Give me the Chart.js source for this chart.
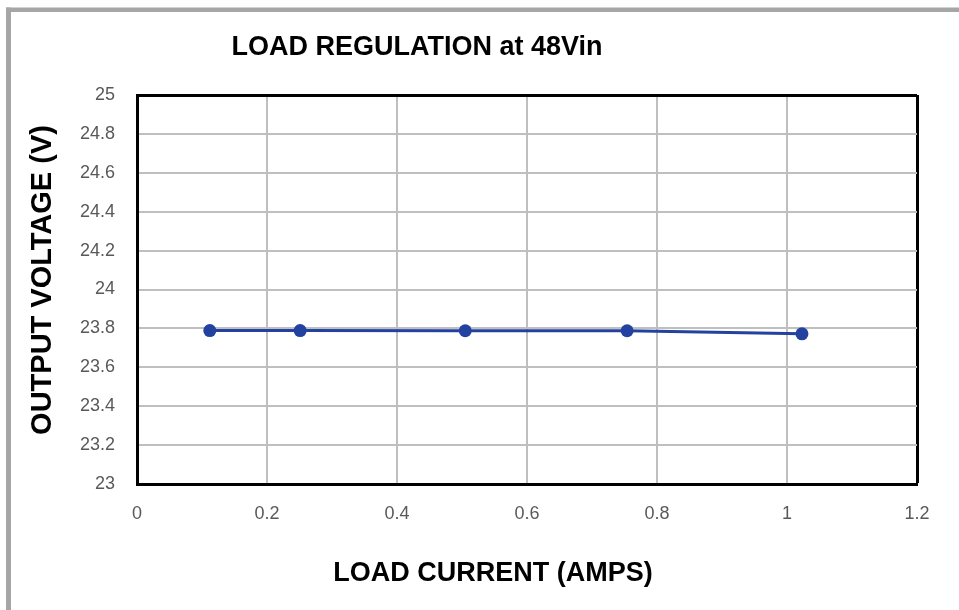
<!DOCTYPE html>
<html>
<head>
<meta charset="utf-8">
<script src="https://cdn.jsdelivr.net/npm/chart.js@4"></script>
<style>
  html, body { margin: 0; padding: 0; background: #ffffff; }
  #wrap { width: 959px; height: 610px; }
</style>
</head>
<body>
<div id="wrap"><canvas id="c" width="959" height="610"></canvas></div>
<script>
// ---- data ----
const loadCurrent = [0.112, 0.251, 0.505, 0.754, 1.023];
const outputVoltage = [23.789, 23.789, 23.788, 23.788, 23.772];
const xTicks = [0, 0.2, 0.4, 0.6, 0.8, 1, 1.2];
const yTicks = [23, 23.2, 23.4, 23.6, 23.8, 24, 24.2, 24.4, 24.6, 24.8, 25];
const chartTitle = 'LOAD REGULATION at 48Vin';
const xTitle = 'LOAD CURRENT (AMPS)';
const yTitle = 'OUTPUT VOLTAGE (V)';

const GRID = '#bfbfbf';
const LINE = '#2342a0';
const TICK = '#595959';

const fmt = v => String(Number(Number(v).toFixed(1)));

const framePlugin = {
  id: 'frame',
  beforeDraw(chart) {
    const ctx = chart.ctx;
    ctx.save();
    ctx.fillStyle = '#ffffff';
    ctx.fillRect(0, 0, chart.width, chart.height);
    ctx.fillStyle = '#a6a6a6';
    ctx.fillRect(6, 7.5, 5, chart.height - 7.5);
    ctx.fillRect(6, 7.5, chart.width - 6, 4.5);
    ctx.restore();
  },
  afterDraw(chart) {
    const ctx = chart.ctx;
    ctx.save();
    ctx.fillStyle = '#000000';
    ctx.font = 'bold 27px "Liberation Sans", Arial, sans-serif';
    ctx.textAlign = 'center';
    ctx.textBaseline = 'alphabetic';
    ctx.fillText(chartTitle, 417, 55);
    ctx.fillText(xTitle, 493, 581);
    ctx.translate(51, 280);
    ctx.rotate(-Math.PI / 2);
    ctx.font = 'bold 29px "Liberation Sans", Arial, sans-serif';
    ctx.fillText(yTitle, 0, 0);
    ctx.restore();
  }
};

new Chart(document.getElementById('c'), {
  type: 'scatter',
  data: {
    datasets: [{
      data: loadCurrent.map((x, i) => ({ x: x, y: outputVoltage[i] })),
      showLine: true,
      borderColor: LINE,
      backgroundColor: LINE,
      borderWidth: 3,
      pointRadius: 6.5,
      pointHoverRadius: 6.5,
      pointBorderWidth: 0,
      tension: 0
    }]
  },
  options: {
    responsive: false,
    animation: false,
    devicePixelRatio: 1,
    layout: { padding: { left: 12, right: 42, top: 95, bottom: 0 } },
    plugins: { legend: { display: false }, tooltip: { enabled: false }, title: { display: false } },
    scales: {
      x: {
        type: 'linear',
        min: xTicks[0],
        max: xTicks[xTicks.length - 1],
        afterBuildTicks(scale) { scale.ticks = xTicks.map(v => ({ value: v })); },
        afterFit(scale) { scale.height = 126; },
        border: { display: true, color: '#000000', width: 3 },
        grid: {
          drawTicks: false,
          color: ctx => (ctx.index === xTicks.length - 1 ? '#000000' : GRID),
          lineWidth: ctx => (ctx.index === xTicks.length - 1 ? 3 : 2)
        },
        ticks: {
          padding: 19,
          color: TICK,
          font: { family: '"Liberation Sans", Arial, sans-serif', size: 18 },
          callback: v => fmt(v),
          maxRotation: 0
        }
      },
      y: {
        type: 'linear',
        min: yTicks[0],
        max: yTicks[yTicks.length - 1],
        afterBuildTicks(scale) { scale.ticks = yTicks.map(v => ({ value: v })); },
        afterFit(scale) { scale.width = 125; },
        border: { display: true, color: '#000000', width: 3 },
        grid: {
          drawTicks: false,
          color: ctx => (ctx.index === yTicks.length - 1 ? '#000000' : GRID),
          lineWidth: ctx => (ctx.index === yTicks.length - 1 ? 3 : 2)
        },
        ticks: {
          padding: 22,
          color: TICK,
          font: { family: '"Liberation Sans", Arial, sans-serif', size: 18 },
          callback: v => fmt(v)
        }
      }
    }
  },
  plugins: [framePlugin]
});
</script>
</body>
</html>
